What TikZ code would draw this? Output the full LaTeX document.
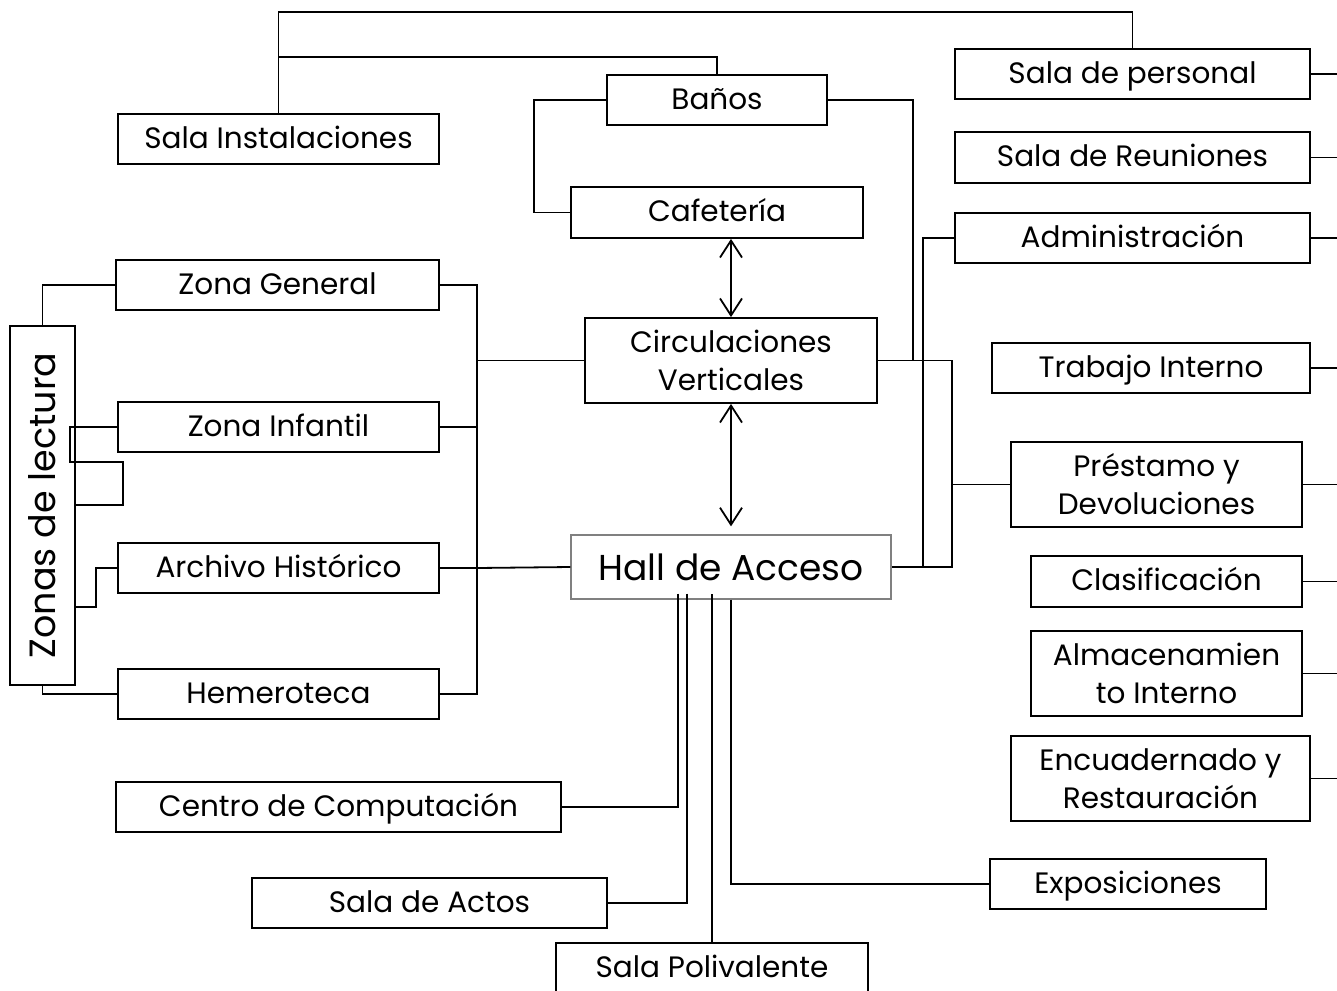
\documentclass[tikz,border=0pt]{standalone}
\usepackage{fontspec}
\setmainfont{Poppins}
\usetikzlibrary{arrows.meta,calc}
\tikzset{
  box/.style={draw, line width=1.8pt, inner sep=0pt, align=center, font=\fontsize{29.5}{38}\selectfont},
  one/.style={box, text height=23pt, text depth=5pt},
  link/.style={line width=1.8pt},
  dbl/.style={line width=1.8pt, {Straight Barb[length=17pt,width=22pt,line width=1.8pt]}-{Straight Barb[length=17pt,width=22pt,line width=1.8pt]}}
}
\begin{document}
\begin{tikzpicture}[x=1pt,y=-1pt]
\clip (0,0) rectangle (1337,990);
\fill[white] (0,0) rectangle (1337,990);
% nodes
\node[one, minimum width=321, minimum height=50] (si) at (278.5,139) {Sala Instalaciones};
\node[one, minimum width=220, minimum height=50] (ban) at (717,100) {Baños};
\node[one, minimum width=292, minimum height=51] (caf) at (717,212.5) {Cafetería};
\node[one, minimum width=355, minimum height=50] (spe) at (1132.5,74) {Sala de personal};
\node[one, minimum width=355, minimum height=51] (sre) at (1132.5,157.5) {Sala de Reuniones};
\node[one, minimum width=355, minimum height=50] (adm) at (1132.5,238) {Administración};
\node[one, minimum width=318, minimum height=50] (tin) at (1151,368) {Trabajo Interno};
\node[box, minimum width=291, minimum height=85] (pre) at (1156.5,484.5) {Préstamo y\\Devoluciones};
\node[one, minimum width=271, minimum height=51] (cla) at (1166.5,581.5) {Clasificación};
\node[box, minimum width=271, minimum height=85] (alm) at (1166.5,673.5) {Almacenamien\\to Interno};
\node[box, minimum width=299, minimum height=85] (enc) at (1160.5,778.5) {Encuadernado y\\Restauración};
\node[one, minimum width=276, minimum height=50] (exp) at (1128,884) {Exposiciones};
\node[one, minimum width=312, minimum height=50] (spo) at (712,968) {Sala Polivalente};
\node[one, minimum width=355, minimum height=50] (sac) at (429.5,903) {Sala de Actos};
\node[one, minimum width=445, minimum height=50] (cco) at (338.5,807) {Centro de Computación};
\node[box, minimum width=292, minimum height=85] (cir) at (731,360.5) {Circulaciones\\Verticales};
\node[box, draw=black!50, line width=1.3pt, minimum width=320, minimum height=64, font=\fontsize{36}{40}\selectfont] (hal) at (731,567) {Hall de Acceso};
\node[one, minimum width=323, minimum height=50] (zge) at (277.5,285) {Zona General};
\node[one, minimum width=321, minimum height=50] (zin) at (278.5,427) {Zona Infantil};
\node[one, minimum width=321, minimum height=50] (arh) at (278.5,568) {Archivo Histórico};
\node[one, minimum width=321, minimum height=50] (hem) at (278.5,694) {Hemeroteca};
\node[box, minimum width=65, minimum height=359, font=\fontsize{36.5}{40}\selectfont] (zdl) at (42.5,505.5) {\rotatebox{90}{Zonas de lectura}};
% helper coordinates
\coordinate (topy) at (0,12);
\coordinate (y57) at (0,57);
\coordinate (bx) at (534,0);
\coordinate (j1) at (913,360.5);
\coordinate (x952) at (952,0);
\coordinate (x923) at (923,0);
\coordinate (lx) at (477,0);
\coordinate (k1) at (70,462);
\coordinate (k2) at (123,505);
\coordinate (k3) at (96,607);
\coordinate (redge) at (1337,0);
% top connectors
\draw[link] (si.north) -- (si.north |- topy) -| (spe.north);
\draw[link] (si.north |- y57) -| (ban.north);
\draw[link] (ban.west) -- (ban.west -| bx) |- (caf.west);
\draw[link] (ban.east) -| (j1);
% right side
\draw[link] (cir.east) -- (cir.east -| x952) |- (hal.east);
\draw[link] (adm.west) -- (adm.west -| x923) |- (hal.east);
\draw[link] (pre.west) -- (pre.west -| x952);
\foreach \n in {spe,sre,adm,tin,pre,cla,alm,enc}
  \draw[link] (\n.east) -- (\n.east -| redge);
% arrows
\draw[dbl] (cir.north |- caf.south) -- (cir.north);
\draw[dbl] (cir.south) -- ([yshift=8pt]hal.north);
% left side
\draw[link] (zge.east) -- (zge.east -| lx) |- (hem.east);
\draw[link] (zin.east) -- (zin.east -| lx);
\draw[link] (arh.east) -- (arh.east -| lx);
\draw[link] (cir.west) -- (cir.west -| lx);
\draw[link] (hal.west) -- (arh.east -| lx);
\draw[link] (zdl.north) |- (zge.west);
\draw[link] (zdl.south) |- (hem.west);
\draw[link] (zin.west) -| (k1) -| (k2) -- (k2 -| zdl.east);
\draw[link] (arh.west) -| (k3) -- (k3 -| zdl.east);
% bottom
\draw[link] ([xshift=-53pt,yshift=6pt]hal.south) |- (cco.east);
\draw[link] ([xshift=-44pt,yshift=6pt]hal.south) |- (sac.east);
\draw[link] (spo.north) -- ([yshift=6pt]spo.north |- hal.south);
\draw[link] (hal.south) |- (exp.west);
\end{tikzpicture}
\end{document}
